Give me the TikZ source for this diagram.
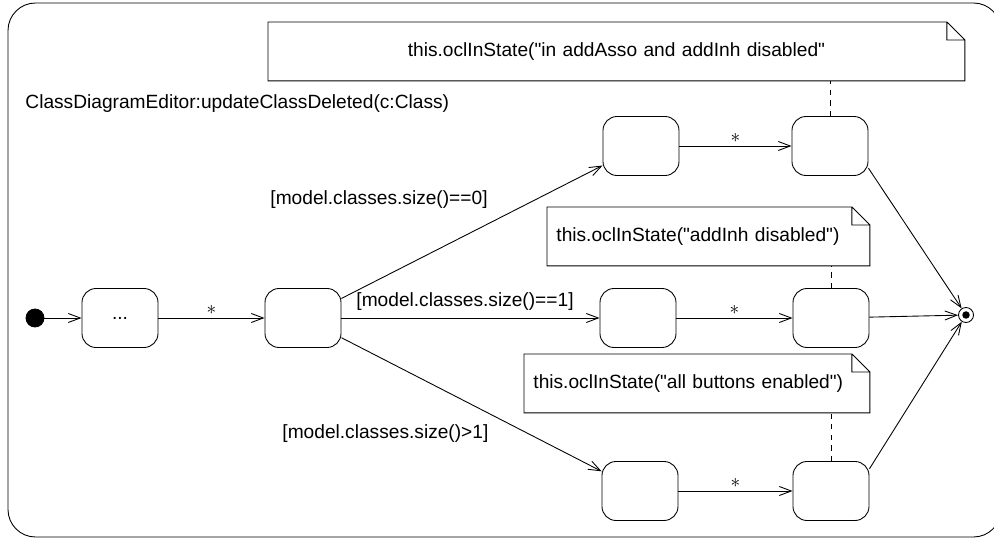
\documentclass[tikz,border=0pt]{standalone}
\usepackage{fontspec}
\setmainfont{Liberation Sans}
\usepackage{tikz}
\usetikzlibrary{arrows.meta,calc}

\begin{document}
\begin{tikzpicture}
  [>={Straight Barb[length=2.4mm,width=1.8mm]},
   line width=0.5pt,
   font=\fontsize{10.9}{13}\selectfont,
   dot/.style={draw,fill,circle,inner sep=0pt,minimum size=0.36cm},
   stop/.style={draw,circle,inner sep=0pt,minimum size=0.30cm,
     path picture={\fill (path picture bounding box.center) circle (0.075cm);}},
   state/.style={draw,rounded corners=0.28cm,minimum width=1.52cm,minimum height=1.18cm},
   note/.style={anchor=north west,minimum height=1.16cm,inner xsep=0.18cm},
   guard/.style={anchor=west,inner sep=0pt}
  ]
  \useasboundingbox (0,0) rectangle (19.88,10.76);
  \draw[rounded corners=0.55cm] (0.16,0.02) rectangle (20.02,10.70);

  \node[anchor=west,inner sep=0pt] (title) at (0.50,8.68) {ClassDiagramEditor:updateClassDeleted(c:Class)};

  % states
  \node[dot] (start) at (0.70,4.40) {};
  \node[state] (s0) at (2.40,4.40) {...};
  \node[state] (s1) at (6.06,4.40) {};
  \node[state] (a1) at (12.82,7.84) {};
  \node[state] (a2) at (16.60,7.84) {};
  \node[state] (b1) at (12.76,4.40) {};
  \node[state] (b2) at (16.62,4.40) {};
  \node[state] (c1) at (12.80,0.94) {};
  \node[state] (c2) at (16.62,0.94) {};
  \node[stop] (stop) at (19.32,4.46) {};

  % transitions
  \draw[->] (start) -- (s0);
  \draw[->] (s0) -- node[above,inner sep=1.5pt]{$\ast$} (s1);
  \draw[->] (s1) -- (a1);
  \draw[->] (s1) -- (b1);
  \draw[->] (s1) -- (c1);
  \draw[->] (a1) -- node[above,inner sep=1.5pt]{$\ast$} (a2);
  \draw[->] (b1) -- node[above,inner sep=1.5pt]{$\ast$} (b2);
  \draw[->] (c1) -- node[above,inner sep=1.5pt]{$\ast$} (c2);
  \draw[->] (a2.-30) -- (stop);
  \draw[->] (b2) -- (stop);
  \draw[->] (c2.30) -- (stop);

  \node[guard] (g0) at (5.40,6.76) {[model.classes.size()==0]};
  \node[guard] (g1) at (7.12,4.72) {[model.classes.size()==1]};
  \node[guard] (g2) at (5.64,2.08) {[model.classes.size()>1]};

  % notes
  \node[note,text width=13.56cm,align=center] (n1) at (5.36,10.32)
    {this.oclInState(\textquotedbl in addAsso and addInh disabled\textquotedbl};
  \node[note,text width=6.08cm,align=left] (n2) at (10.94,6.62)
    {this.oclInState(\textquotedbl addInh disabled\textquotedbl)};
  \node[note,text width=6.54cm,align=left] (n3) at (10.48,3.68)
    {this.oclInState(\textquotedbl all buttons enabled\textquotedbl)};
  \foreach \n in {n1,n2,n3}
    \draw (\n.south west) -- (\n.north west) -- ([xshift=-0.36cm]\n.north east)
      -- ([yshift=-0.36cm]\n.north east) -- (\n.south east) -- cycle
      ([xshift=-0.36cm]\n.north east) |- ([yshift=-0.36cm]\n.north east);
  \draw[dashed] (a2.north) -- (a2.north |- n1.south);
  \draw[dashed] (b2.north) -- (b2.north |- n2.south);
  \draw[dashed] (c2.north) -- (c2.north |- n3.south);

\end{tikzpicture}
\end{document}
